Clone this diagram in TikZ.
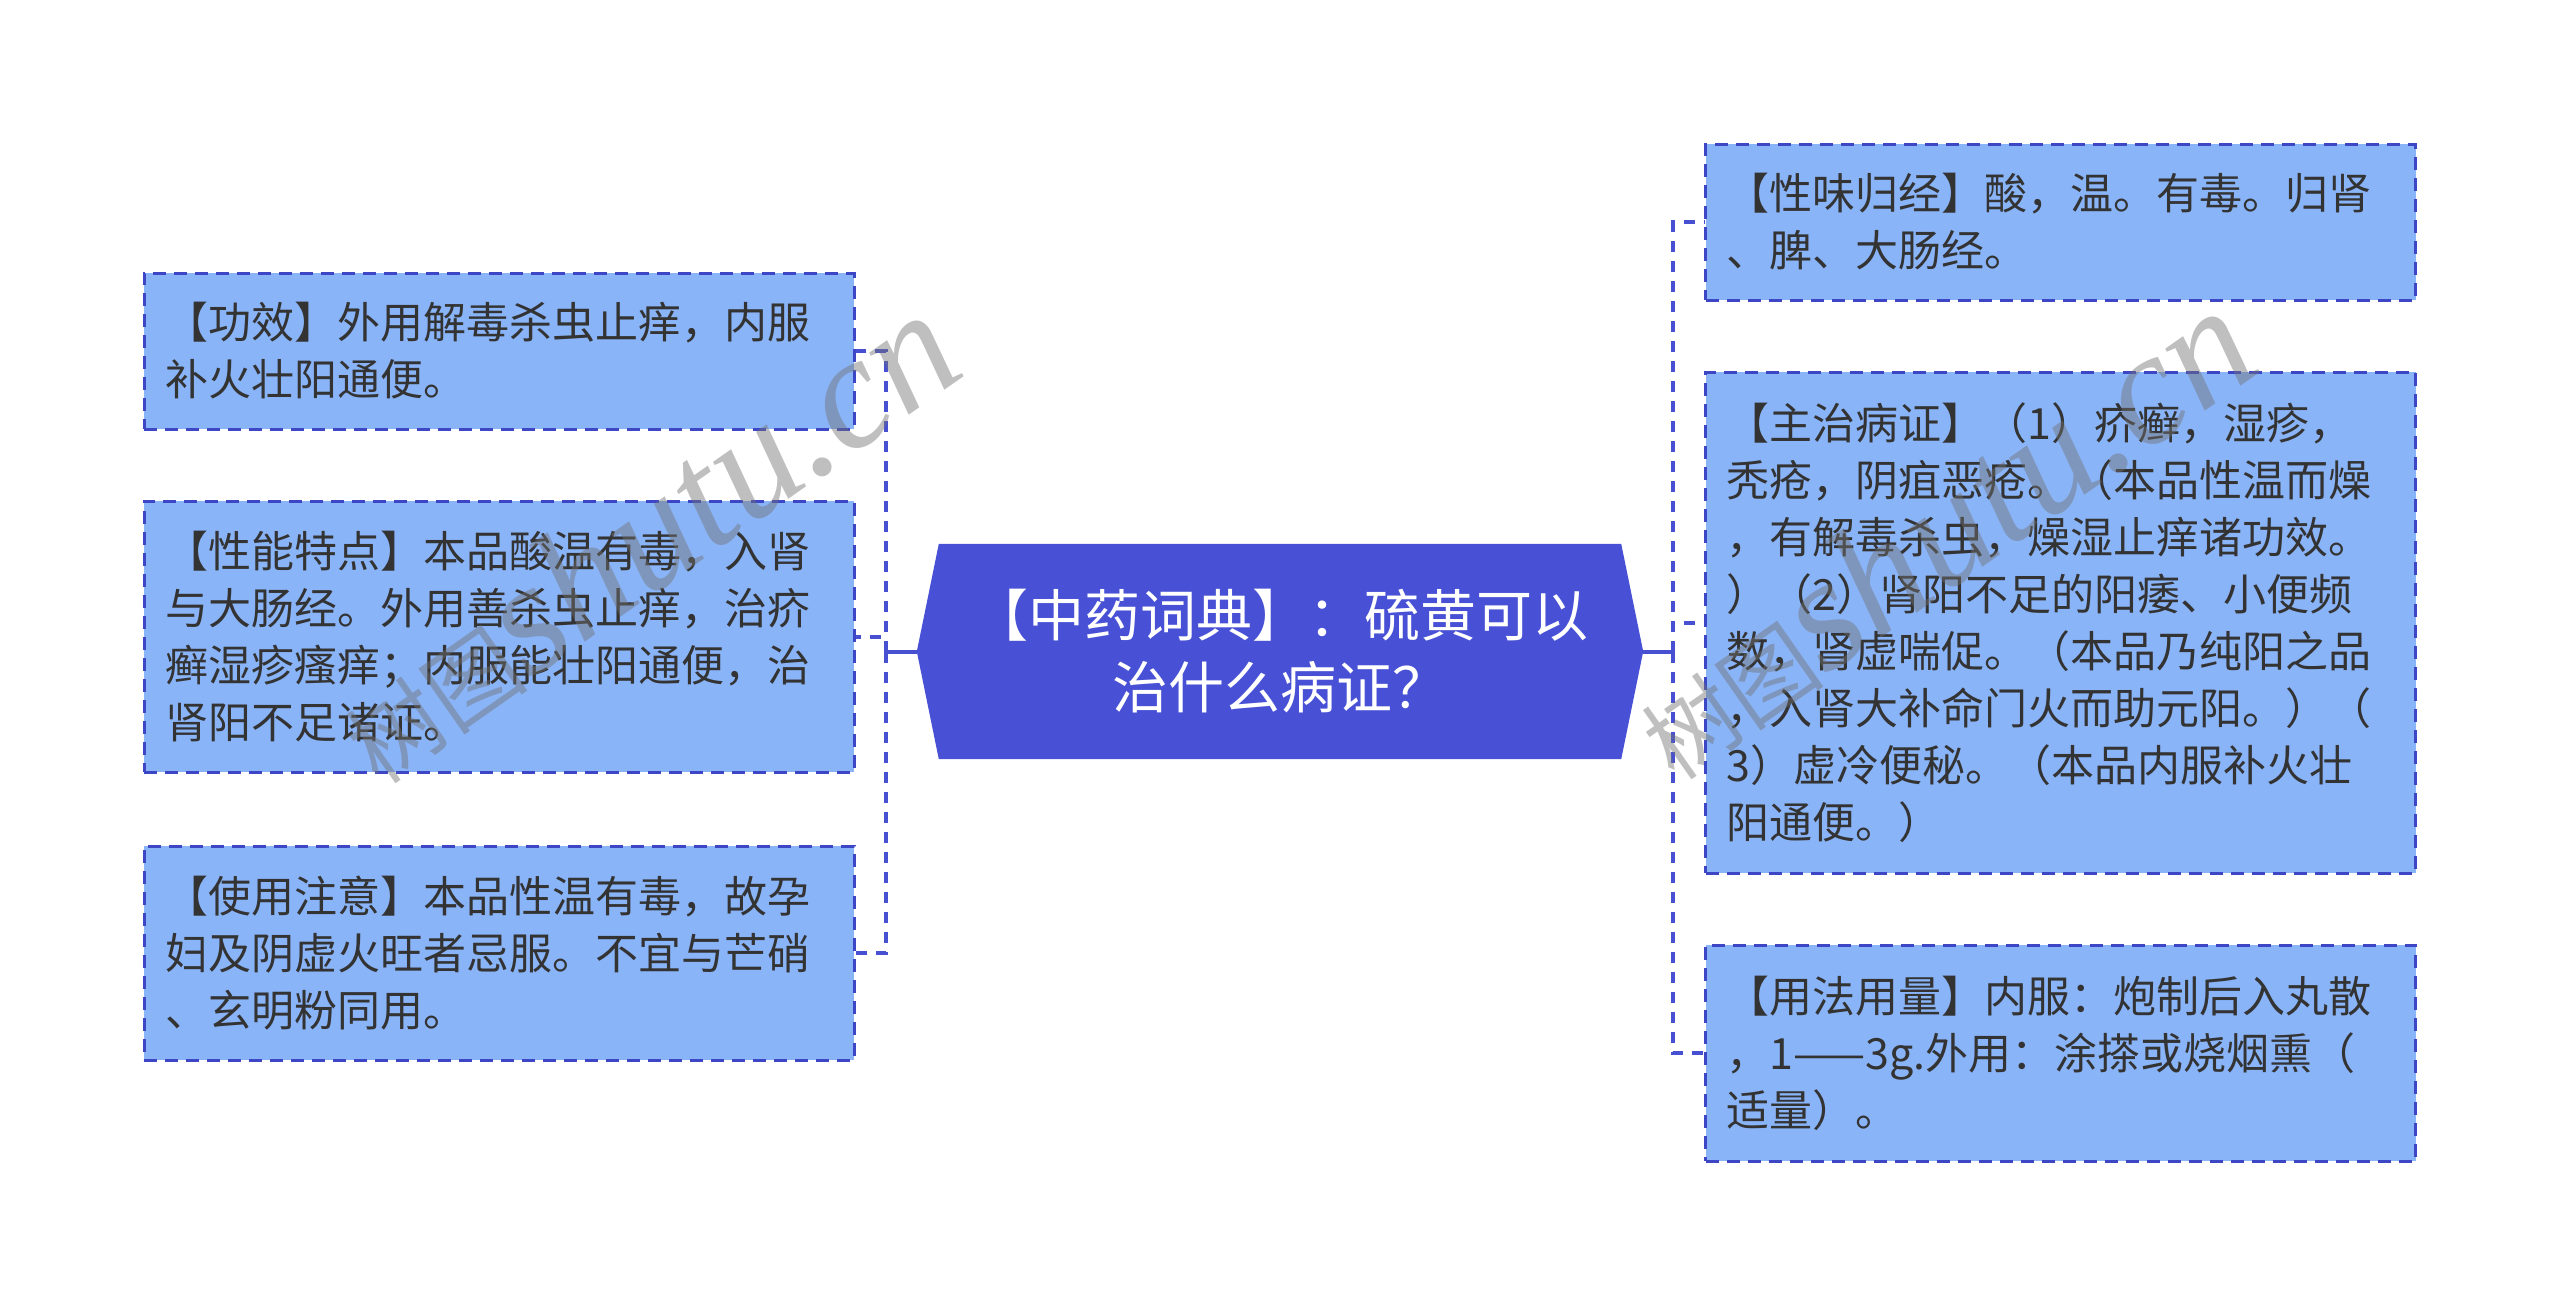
\documentclass[tikz,border=0pt]{standalone}
\usepackage{fontspec}
\setmainfont{Noto Sans CJK SC}
\newfontfamily\wmlatin{Liberation Serif}
\usetikzlibrary{backgrounds}
\definecolor{boxfill}{HTML}{8AB4F8}
\definecolor{boxline}{HTML}{3D47C6}
\definecolor{centerfill}{HTML}{4851D5}
\definecolor{linkcol}{HTML}{4650D0}
\definecolor{txt}{HTML}{333333}
\tikzset{
  leaf/.style={draw=boxline, fill=boxfill, line width=3pt, dash pattern=on 13pt off 8pt,
    text=txt, font=\fontsize{43}{57}\selectfont, align=left, text width=668pt,
    inner xsep=21pt, inner ysep=0pt, anchor=center},
  hub/.style={inner sep=0pt, minimum width=682pt, minimum height=215pt, text=white,
    align=center, font=\fontsize{56}{72}\selectfont},
  conn/.style={draw=linkcol, line width=4pt, dash pattern=on 11pt off 9pt},
  stem/.style={draw=linkcol, line width=4pt},
  wm/.style={text=black!55, opacity=0.45, rotate=35, inner sep=0pt}
}
\begin{document}
\begin{tikzpicture}[x=1pt,y=-1pt]
\useasboundingbox (0,0) rectangle (2560,1304);

% central node
\node[hub] (c) at (1280,651.5) {【中药词典】：硫黄可以\\治什么病证？};
\coordinate (cl) at ([xshift=-22pt]c.west);
\coordinate (cr) at ([xshift=22pt]c.east);
\begin{scope}[on background layer]
\fill[white] (0,0) rectangle (2560,1304);
\fill[centerfill] (c.north west) -- (c.north east) -- (cr) -- (c.south east) -- (c.south west) -- (cl) -- cycle;
\end{scope}

% left children
\node[leaf, minimum height=156pt] (L1) at (499,351) {【功效】外用解毒杀虫止痒，内服\\补火壮阳通便。};
\node[leaf, minimum height=271pt] (L2) at (499,636.5) {【性能特点】本品酸温有毒，入肾\\与大肠经。外用善杀虫止痒，治疥\\癣湿疹瘙痒；内服能壮阳通便，治\\肾阳不足诸证。};
\node[leaf, minimum height=214pt] (L3) at (499,953) {【使用注意】本品性温有毒，故孕\\妇及阴虚火旺者忌服。不宜与芒硝\\、玄明粉同用。};

% right children
\node[leaf, minimum height=156pt] (R1) at (2060.5,222) {【性味归经】酸，温。有毒。归肾\\、脾、大肠经。};
\node[leaf, minimum height=501pt] (R2) at (2060.5,622.5) {【主治病证】（1）疥癣，湿疹，\\秃疮，阴疽恶疮。（本品性温而燥\\，有解毒杀虫，燥湿止痒诸功效。\\）（2）肾阳不足的阳痿、小便频\\数，肾虚喘促。（本品乃纯阳之品\\，入肾大补命门火而助元阳。）（\\3）虚冷便秘。（本品内服补火壮\\阳通便。）};
\node[leaf, minimum height=216pt] (R3) at (2060.5,1053) {【用法用量】内服：炮制后入丸散\\，1——3g.外用：涂搽或烧烟熏（\\适量）。};

% connectors
\coordinate (jl) at ([xshift=-31pt]cl);
\coordinate (jr) at ([xshift=30pt]cr);
\draw[stem] (cl) -- (jl);
\draw[stem] (cr) -- (jr);
\draw[conn] (jl) |- (L1.east);
\draw[conn] (jl) |- (L2.east);
\draw[conn] (jl) |- (L3.east);
\draw[conn] (jr) |- (R1.west);
\draw[conn] (jr) |- (R2.west);
\draw[conn] (jr) |- (R3.west);

% watermarks
\node[wm] (wm1) at (645,537) {\fontsize{92}{92}\selectfont 树图\wmlatin\itshape\fontsize{160}{160}\selectfont shutu.cn};
\node[wm] (wm2) at (1941,533) {\fontsize{92}{92}\selectfont 树图\wmlatin\itshape\fontsize{160}{160}\selectfont shutu.cn};
\end{tikzpicture}
\end{document}
